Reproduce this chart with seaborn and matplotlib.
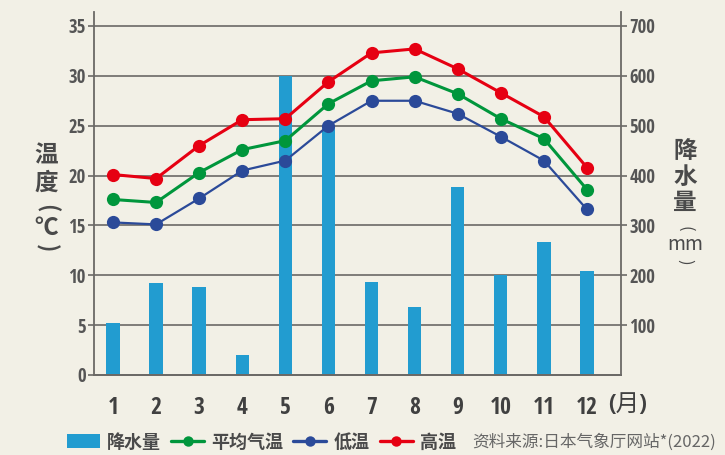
import numpy as np
import pandas as pd
import matplotlib
matplotlib.use('Agg')
import matplotlib.pyplot as plt
import seaborn as sns
from matplotlib import font_manager
from matplotlib.lines import Line2D
from matplotlib.patches import Patch

# monthly climate data
months = list(range(1, 13))
rain = [104, 185, 176, 40, 600, 496, 187, 136, 378, 200, 267, 209]
t_avg = [17.6, 17.3, 20.3, 22.6, 23.5, 27.2, 29.5, 29.9, 28.2, 25.7, 23.7, 18.6]
t_low = [15.3, 15.1, 17.7, 20.5, 21.5, 25.0, 27.5, 27.5, 26.2, 23.9, 21.5, 16.6]
t_high = [20.1, 19.7, 23.0, 25.6, 25.7, 29.4, 32.3, 32.7, 30.7, 28.3, 25.9, 20.8]
temp_ticks = [0, 5, 10, 15, 20, 25, 30, 35]
rain_ticks = [100, 200, 300, 400, 500, 600, 700]
legend_labels = ['降水量', '平均气温', '低温', '高温']
source_text = '资料来源:日本气象厅网站*(2022)'

bg = '#F2F0E6'
bar_c = '#229CD0'
green = '#00963C'
navy = '#2B4A99'
red = '#E60012'
grid_c = '#6B6966'
txt_c = '#4A4A4A'
cjk = 'Noto Sans CJK SC'


def pick_num_font():
    fl = font_manager.fontManager.ttflist
    names = {f.name for f in fl}
    for n in ['Liberation Sans Narrow', 'Noto Sans Condensed', 'Open Sans Condensed',
              'Roboto Condensed', 'DejaVu Sans Condensed']:
        if n in names:
            return n, 'normal'
    for n in ['Noto Sans', 'Open Sans', 'Roboto', 'DejaVu Sans']:
        for f in fl:
            if f.name == n and str(f.stretch) in ('condensed', 'semi-condensed', 'extra-condensed'):
                return n, f.stretch
    return 'Liberation Sans', 'normal'


num_font, num_stretch = pick_num_font()

sns.set_style('ticks')
plt.rcParams['font.family'] = [num_font, cjk, 'DejaVu Sans']
plt.rcParams['font.stretch'] = num_stretch

df = pd.DataFrame({'month': months, 'rain': rain, 'avg': t_avg, 'low': t_low, 'high': t_high})

fig = plt.figure(figsize=(7.25, 4.55), dpi=100, facecolor=bg)
ax = fig.add_axes([94 / 725, 1 - 375 / 455, (621 - 94) / 725, (375 - 12) / 455])
ax2 = ax.twinx()
ax.set_zorder(ax2.get_zorder() + 1)
ax.patch.set_visible(False)
ax2.set_facecolor(bg)

# precipitation bars on right axis
sns.barplot(data=df, x='month', y='rain', ax=ax2, native_scale=True, width=0.31,
            color=bar_c, saturation=1, linewidth=0)

# temperature lines on left axis
for col, c, lw in [('high', red, 2.2), ('avg', green, 2.2), ('low', navy, 1.6)]:
    sns.lineplot(data=df, x='month', y=col, ax=ax, color=c, linewidth=lw,
                 marker='o', markersize=9.5, markeredgewidth=0)

ax.set_xlim(0.56, 12.79)
ax.set_ylim(0, 36.4)
ax2.set_ylim(0, 728)
ax2.yaxis.grid(True, color=grid_c, linewidth=1.2)
ax2.set_axisbelow(True)

ax.set_yticks(temp_ticks)
ax2.set_yticks(rain_ticks)
ax.set_xticks(months)
ax.set_xticklabels([str(m) for m in months])
for a in (ax, ax2):
    a.set_xlabel('')
    a.set_ylabel('')
    a.spines['top'].set_visible(False)
    for s in ('left', 'right', 'bottom'):
        a.spines[s].set_color(grid_c)
        a.spines[s].set_linewidth(1.3)
    a.tick_params(axis='y', length=4, width=1.2, color=grid_c, labelcolor='#555555',
                  labelsize=13.5, pad=2)
ax.tick_params(axis='x', length=0, pad=15, labelsize=17, labelcolor='#404040')
ax2.tick_params(axis='x', length=0, labelbottom=False)
ax2.spines['left'].set_visible(False)
ax.spines['right'].set_visible(False)

fig.text(628 / 725, 1 - 405 / 455, '(月)', ha='center', va='center', fontsize=17,
         color='#404040', family=[num_font, cjk])

# vertical axis titles: stacked characters, parentheses turned on their side
left_title = [('温', 155, 0, 17), ('度', 183, 0, 17), ('(', 208, -90, 16),
              ('℃', 228, 0, 17), (')', 248, -90, 16)]
for ch, y, rot, fs in left_title:
    fig.text(46 / 725, 1 - y / 455, ch, ha='center', va='center', fontsize=fs,
             rotation=rot, fontweight='bold', color=txt_c, family=[cjk, 'DejaVu Sans'])
right_title = [('降', 151, 0, 17, 'bold'), ('水', 177, 0, 17, 'bold'),
               ('量', 203, 0, 17, 'bold'), ('(', 229, -90, 12, 'normal'),
               ('mm', 245, 0, 14, 'normal'), (')', 262, -90, 12, 'normal')]
for ch, y, rot, fs, w in right_title:
    fig.text(685 / 725, 1 - y / 455, ch, ha='center', va='center', fontsize=fs,
             rotation=rot, fontweight=w, color=txt_c, family=[cjk, 'DejaVu Sans'])

handles = [Patch(facecolor=bar_c, edgecolor='none'),
           Line2D([0], [0], color=green, lw=2.4, marker='o', ms=7.5, mew=0),
           Line2D([0], [0], color=navy, lw=2.4, marker='o', ms=7.5, mew=0),
           Line2D([0], [0], color=red, lw=2.4, marker='o', ms=7.5, mew=0)]
leg = fig.legend(handles, legend_labels, loc='center left', ncol=4, frameon=False,
                 bbox_to_anchor=(67 / 725, 1 - 442 / 455), borderpad=0, borderaxespad=0,
                 handlelength=1.83, handleheight=0.85, handletextpad=0.4, columnspacing=0.55,
                 prop={'family': cjk, 'weight': 'bold', 'size': 13})
for t in leg.get_texts():
    t.set_color(txt_c)

fig.text(472 / 725, 1 - 442 / 455, source_text, ha='left', va='center', fontsize=12,
         color='#666666', family=[cjk, 'DejaVu Sans'])

fig.savefig('out.png', dpi=100, facecolor=bg)
